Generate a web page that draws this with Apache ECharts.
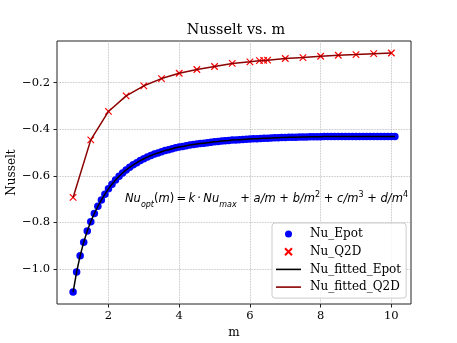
<!DOCTYPE html>
<html><head><meta charset="utf-8">
<script src="https://cdn.jsdelivr.net/npm/echarts@6/dist/echarts.min.js"></script>
<style>html,body{margin:0;padding:0;background:#fff}#c{width:457px;height:343px}</style>
</head><body><div id="c"></div>
<script>
// ---- data ----
const mEpot = [1.0,1.1,1.2,1.3,1.4,1.5,1.6,1.7,1.8,1.9,
  2.0,2.1,2.2,2.3,2.4,2.5,2.6,2.7,2.8,2.9,
  3.0,3.1,3.2,3.3,3.4,3.5,3.6,3.7,3.8,3.9,
  4.0,4.1,4.2,4.3,4.4,4.5,4.6,4.7,4.8,4.9,
  5.0,5.1,5.2,5.3,5.4,5.5,5.6,5.7,5.8,5.9,
  6.0,6.1,6.2,6.3,6.4,6.5,6.6,6.7,6.8,6.9,
  7.0,7.1,7.2,7.3,7.4,7.5,7.6,7.7,7.8,7.9,
  8.0,8.1,8.2,8.3,8.4,8.5,8.6,8.7,8.8,8.9,
  9.0,9.1,9.2,9.3,9.4,9.5,9.6,9.7,9.8,9.9,
  10.0,10.1];
const nuEpot = [-1.099,-1.013,-0.943,-0.885,-0.837,-0.797,-0.762,-0.731,-0.704,-0.679,
  -0.656,-0.636,-0.618,-0.602,-0.588,-0.575,-0.564,-0.553,-0.544,-0.535,
  -0.527,-0.520,-0.513,-0.507,-0.502,-0.497,-0.492,-0.488,-0.484,-0.480,
  -0.477,-0.474,-0.471,-0.468,-0.466,-0.464,-0.462,-0.460,-0.458,-0.456,
  -0.454,-0.453,-0.451,-0.450,-0.449,-0.447,-0.446,-0.445,-0.444,-0.443,
  -0.442,-0.441,-0.441,-0.440,-0.439,-0.439,-0.438,-0.437,-0.437,-0.436,
  -0.436,-0.435,-0.435,-0.435,-0.434,-0.434,-0.434,-0.433,-0.433,-0.433,
  -0.433,-0.432,-0.432,-0.432,-0.432,-0.432,-0.432,-0.432,-0.432,-0.432,
  -0.432,-0.432,-0.432,-0.432,-0.432,-0.432,-0.432,-0.432,-0.432,-0.432,
  -0.432,-0.432];
const mQ2D = [1.0,1.5,2.0,2.5,3.0,3.5,4.0,4.5,5.0,5.5,6.0,6.27,6.39,6.5,7.0,7.5,8.0,8.5,9.0,9.5,10.0];
const nuQ2D = [-0.693,-0.446,-0.324,-0.257,-0.214,-0.183,-0.160,-0.144,-0.131,-0.118,-0.111,-0.106,-0.105,-0.104,-0.097,-0.093,-0.087,-0.083,-0.080,-0.076,-0.073];
// fitted curves evaluated at the same m values
const nuFitEpot = nuEpot;
const nuFitQ2D = nuQ2D;
const xTicks = [2,4,6,8,10];
const yTicks = [-1.0,-0.8,-0.6,-0.4,-0.2];
const seriesNames = ['Nu_Epot','Nu_Q2D','Nu_fitted_Epot','Nu_fitted_Q2D'];

// ---- chart ----
const zip = (a,b) => a.map((v,i)=>[v,b[i]]);
const allX = mEpot.concat(mQ2D), allY = nuEpot.concat(nuQ2D);
const xLo = Math.min(...allX), xHi = Math.max(...allX);
const yLo = Math.min(...allY), yHi = Math.max(...allY);
const xPad = (xHi-xLo)*0.05, yPad = (yHi-yLo)*0.05;
const serif = 'DejaVu Serif';
const fmtY = v => (v<0?'\u2212':'') + Math.abs(v).toFixed(1);
const xPath = 'path://M0,0L10,10M10,0L0,10';
const linePath = 'path://M0,0h25v1.6h-25z';

const chart = echarts.init(document.getElementById('c'), null, {renderer:'canvas'});
chart.setOption({
  animation:false,
  backgroundColor:'#fff',
  grid:{left:57, right:46, top:41, bottom:39, show:true, borderColor:'#222', borderWidth:1, backgroundColor:'transparent'},
  xAxis:{type:'value', min:xLo-xPad, max:xHi+xPad,
    axisLine:{show:false},
    axisTick:{show:true, length:3.5, customValues:xTicks, lineStyle:{color:'#222'}},
    axisLabel:{customValues:xTicks, fontFamily:serif, fontSize:11.5, color:'#000', margin:6, formatter:v=>String(Math.round(v))},
    splitLine:{show:true, lineStyle:{type:'dotted', color:'#b0b0b0', width:0.8}}},
  yAxis:{type:'value', min:yLo-yPad, max:yHi+yPad,
    axisLine:{show:false},
    axisTick:{show:true, length:3.5, customValues:yTicks, lineStyle:{color:'#222'}},
    axisLabel:{customValues:yTicks, fontFamily:serif, fontSize:11.5, color:'#000', margin:7, formatter:fmtY},
    splitLine:{show:true, lineStyle:{type:'dotted', color:'#b0b0b0', width:0.8}}},
  legend:{orient:'vertical', left:272, top:223, itemWidth:25, itemHeight:7, itemGap:5.7,
    padding:[5,5,5,4], backgroundColor:'rgba(255,255,255,0.8)', borderColor:'#ccc', borderWidth:1, borderRadius:3,
    textStyle:{fontFamily:serif, fontSize:12, lineHeight:12, color:'#000', padding:[0,0,0,4]},
    data:[
      {name:seriesNames[0]},
      {name:seriesNames[1]},
      {name:seriesNames[2], icon:linePath},
      {name:seriesNames[3], icon:linePath}
    ]},
  series:[
    {name:seriesNames[0], type:'scatter', data:zip(mEpot,nuEpot), symbol:'circle', symbolSize:7.5,
      itemStyle:{color:'#0000ff', opacity:1}, z:2},
    {name:seriesNames[1], type:'scatter', data:zip(mQ2D,nuQ2D), symbol:xPath, symbolSize:6.5,
      itemStyle:{color:'#ff0000', borderColor:'#ff0000', borderWidth:1.2, opacity:1}, z:3},
    {name:seriesNames[2], type:'line', data:zip(mEpot,nuFitEpot), symbol:'none', showSymbol:false,
      lineStyle:{color:'#000', width:1.5}, itemStyle:{color:'#000'}, z:4},
    {name:seriesNames[3], type:'line', data:zip(mQ2D,nuFitQ2D), symbol:'none', showSymbol:false,
      lineStyle:{color:'#8b0000', width:1.5}, itemStyle:{color:'#8b0000'}, z:5}
  ],
  graphic:[
    {type:'text', x:236, y:30, style:{text:'Nusselt vs. m', fontFamily:serif, fontSize:14.4, fill:'#000', align:'center', verticalAlign:'middle'}},
    {type:'text', x:12, y:172.5, rotation:Math.PI/2, style:{text:'Nusselt', fontFamily:serif, fontSize:12, fill:'#000', align:'center', verticalAlign:'middle'}},
    {type:'text', x:234, y:332.5, style:{text:'m', fontFamily:serif, fontSize:12, fill:'#000', align:'center', verticalAlign:'middle'}},
    {type:'text', x:125, y:199.5, z:10, style:{
      text:'{i|Nu}{sub|opt}{n|(}{i|m}{n|)\u2009=\u2009}{i|k}{n|\u2009\u00b7\u2009}{i|Nu}{sub|max}{n| + }{i|a/m}{n| + }{i|b/m}{sup|2}{n| + }{i|c/m}{sup|3}{n| + }{i|d/m}{sup|4}',
      verticalAlign:'middle', align:'left',
      rich:{
        i:{fontFamily:'DejaVu Sans', fontStyle:'italic', fontSize:11.5, lineHeight:18, fill:'#000', verticalAlign:'middle'},
        n:{fontFamily:'DejaVu Sans', fontSize:11.5, lineHeight:18, fill:'#000', verticalAlign:'middle'},
        sub:{fontFamily:'DejaVu Sans', fontStyle:'italic', fontSize:8, lineHeight:9, fill:'#000', verticalAlign:'bottom'},
        sup:{fontFamily:'DejaVu Sans', fontSize:8, lineHeight:9, fill:'#000', verticalAlign:'top'}
      }}}
  ]
});
</script></body></html>
